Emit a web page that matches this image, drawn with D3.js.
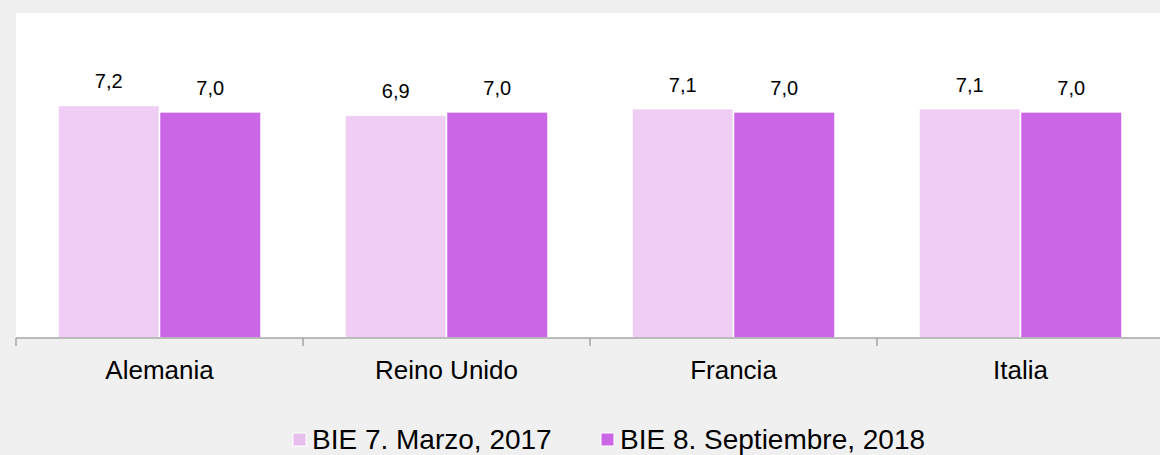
<!DOCTYPE html>
<html>
<head>
<meta charset="utf-8">
<script src="https://cdn.jsdelivr.net/npm/d3@7"></script>
<style>
  html, body { margin: 0; padding: 0; background: #f0f0f0; }
  svg { display: block; font-family: "Liberation Sans", Arial, sans-serif; }
</style>
</head>
<body>
<svg id="chart" width="1160" height="455"></svg>
<script>
const categories = ["Alemania", "Reino Unido", "Francia", "Italia"];
const seriesNames = ["BIE 7. Marzo, 2017", "BIE 8. Septiembre, 2018"];
const marzo2017 = [7.2, 6.9, 7.1, 7.1];
const septiembre2018 = [7.0, 7.0, 7.0, 7.0];
const seriesValues = [marzo2017, septiembre2018];
const colors = ["#efcdf5", "#cb66e6"];
const legendColors = ["#e6bfec", "#cb66e6"];

const svg = d3.select("#chart");
const W = 1160, H = 455;

svg.append("rect").attr("x", 0).attr("y", 0).attr("width", W).attr("height", H).attr("fill", "#f0f0f0");

const plotLeft = 16, plotTop = 13, plotBottom = 338;
const bandW = 287;
svg.append("rect").attr("x", plotLeft).attr("y", plotTop)
  .attr("width", W - plotLeft).attr("height", plotBottom - plotTop).attr("fill", "#ffffff");

const x0 = d3.scaleBand().domain(categories).range([plotLeft, plotLeft + bandW * categories.length]).padding(0);
const x1 = d3.scaleBand().domain(d3.range(seriesNames.length)).range([0, 203]).padding(0);
const y = d3.scaleLinear().domain([0, 10]).range([plotBottom, 15]);

const data = [];
categories.forEach((c, i) => {
  seriesValues.forEach((vals, s) => data.push({ cat: c, s: s, v: vals[i] }));
});

const groupOffset = (x0.bandwidth() - 203) / 2;

svg.append("g").selectAll("rect").data(data).join("rect")
  .attr("x", d => x0(d.cat) + groupOffset + x1(d.s))
  .attr("y", d => y(d.v))
  .attr("width", x1.bandwidth())
  .attr("height", d => y(0) - y(d.v))
  .attr("fill", d => colors[d.s])
  .attr("stroke", "#ffffff")
  .attr("stroke-width", 1.5);

svg.append("g").selectAll("text").data(data).join("text")
  .attr("x", d => x0(d.cat) + groupOffset + x1(d.s) + x1.bandwidth() / 2)
  .attr("y", d => y(d.v) - 17)
  .attr("text-anchor", "middle")
  .attr("font-size", 20)
  .attr("fill", "#000")
  .text(d => d.v.toFixed(1).replace(".", ","));

// axis
const axis = d3.axisBottom(x0).tickSize(0).tickPadding(0);
const gAxis = svg.append("g").attr("transform", `translate(0,${plotBottom})`).call(axis);
gAxis.select(".domain").remove();
gAxis.selectAll("text").remove();
gAxis.append("line").attr("x1", plotLeft).attr("x2", W).attr("y1", 0).attr("y2", 0)
  .attr("stroke", "#a6a6a6").attr("stroke-width", 1.5);
const tickPos = categories.map(c => x0(c));
gAxis.selectAll(".bt").data(tickPos).join("line").attr("class", "bt")
  .attr("x1", d => d).attr("x2", d => d).attr("y1", 0).attr("y2", 8)
  .attr("stroke", "#a6a6a6").attr("stroke-width", 1.5);
gAxis.selectAll(".lbl").data(categories).join("text").attr("class", "lbl")
  .attr("x", d => x0(d) + x0.bandwidth() / 2)
  .attr("y", 41)
  .attr("text-anchor", "middle")
  .attr("font-size", 26)
  .attr("fill", "#000")
  .text(d => d);

// legend
const legendX = [293, 601];
const lg = svg.append("g");
seriesNames.forEach((n, i) => {
  lg.append("rect").attr("x", legendX[i]).attr("y", 433).attr("width", 13).attr("height", 13)
    .attr("fill", legendColors[i]).attr("stroke", "#ffffff").attr("stroke-width", 1);
  lg.append("text").attr("x", legendX[i] + 19).attr("y", 449)
    .attr("font-size", 28).attr("fill", "#000").text(n);
});
</script>
</body>
</html>
